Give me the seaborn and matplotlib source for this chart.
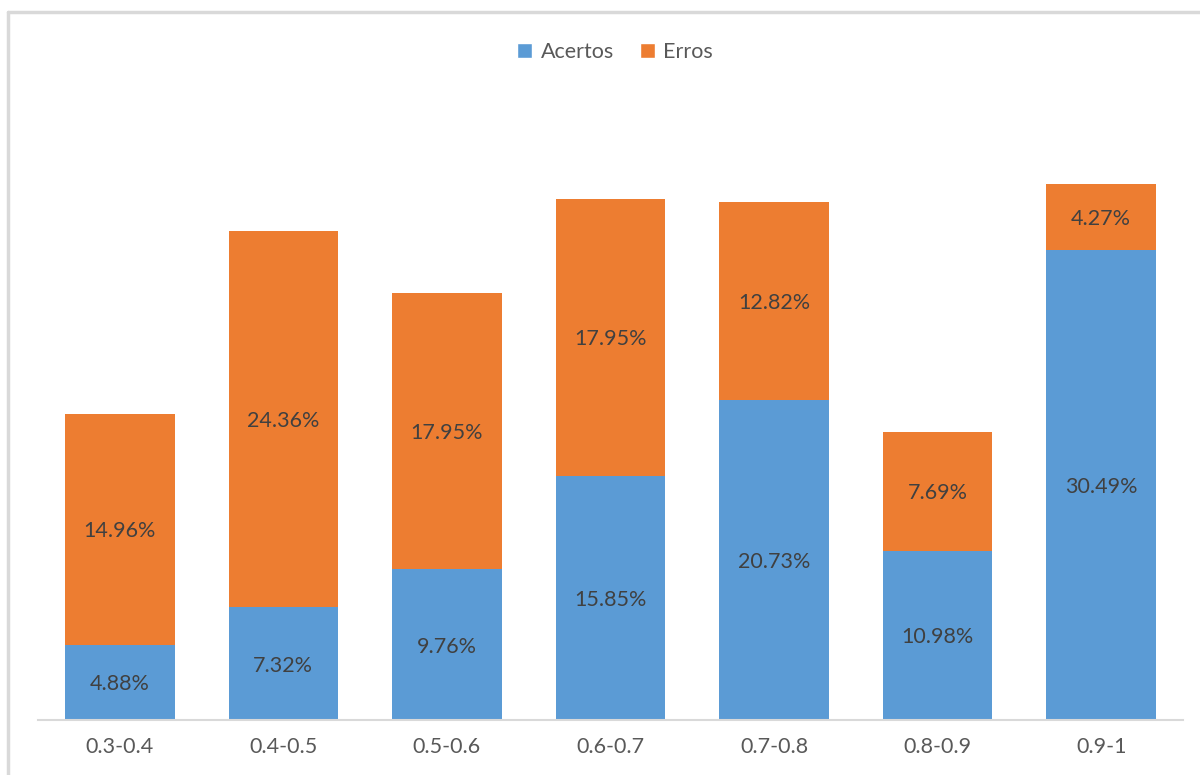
import matplotlib
matplotlib.use("Agg")
import matplotlib.pyplot as plt
from matplotlib.lines import Line2D
from matplotlib.patches import Patch
import seaborn as sns
import pandas as pd

categories = ["0.3-0.4", "0.4-0.5", "0.5-0.6", "0.6-0.7", "0.7-0.8", "0.8-0.9", "0.9-1"]
acertos = [4.88, 7.32, 9.76, 15.85, 20.73, 10.98, 30.49]
erros = [14.96, 24.36, 17.95, 17.95, 12.82, 7.69, 4.27]

BLUE = "#5B9BD5"
ORANGE = "#ED7D31"
TEXT = "#404040"
TICK = "#595959"

sns.set_style("white")
plt.rcParams["font.family"] = ["Lato", "DejaVu Sans"]

df = pd.DataFrame({"faixa": categories, "Acertos": acertos, "Erros": erros})
df["total"] = df["Acertos"] + df["Erros"]

fig = plt.figure(figsize=(12, 7.75), dpi=100)
ax = fig.add_axes([38 / 1200, 55 / 775, (1183 - 38) / 1200, (720 - 103) / 775])

# Stacked bars: totals in orange, correct answers in blue on top of them
sns.barplot(data=df, x="faixa", y="total", color=ORANGE, saturation=1,
            width=0.67, ax=ax, edgecolor="none")
sns.barplot(data=df, x="faixa", y="Acertos", color=BLUE, saturation=1,
            width=0.67, ax=ax, edgecolor="none")

for i, (a, e) in enumerate(zip(acertos, erros)):
    ax.text(i, a / 2, f"{a:.2f}%", ha="center", va="center_baseline", fontsize=15.5, color=TEXT)
    ax.text(i, a + e / 2, f"{e:.2f}%", ha="center", va="center_baseline", fontsize=15.5, color=TEXT)

ax.set_xlim(-0.5, 6.5)
ax.set_ylim(0, 40)
ax.set_xlabel("")
ax.set_ylabel("")
ax.set_yticks([])
ax.tick_params(axis="x", length=0, labelsize=15.5, labelcolor=TICK, pad=12)
for side in ["top", "right", "left"]:
    ax.spines[side].set_visible(False)
ax.spines["bottom"].set_color("#D9D9D9")
ax.spines["bottom"].set_linewidth(1.5)

handles = [Patch(facecolor=BLUE, label="Acertos"), Patch(facecolor=ORANGE, label="Erros")]
fig.legend(handles=handles, loc="center", bbox_to_anchor=(615 / 1200, 1 - 52 / 775), ncol=2,
           frameon=False, fontsize=15.5, labelcolor=TICK, handlelength=0.7,
           handleheight=0.7, handletextpad=0.4, columnspacing=1.2)

# Outer chart frame
fig.add_artist(Line2D([8 / 1200, 8 / 1200], [0, 1 - 12 / 775], color="#D9D9D9", lw=2.5,
                      transform=fig.transFigure))
fig.add_artist(Line2D([8 / 1200, 1], [1 - 12 / 775, 1 - 12 / 775], color="#D9D9D9", lw=2.5,
                      transform=fig.transFigure))

fig.savefig("out.png", dpi=100, facecolor="white")
